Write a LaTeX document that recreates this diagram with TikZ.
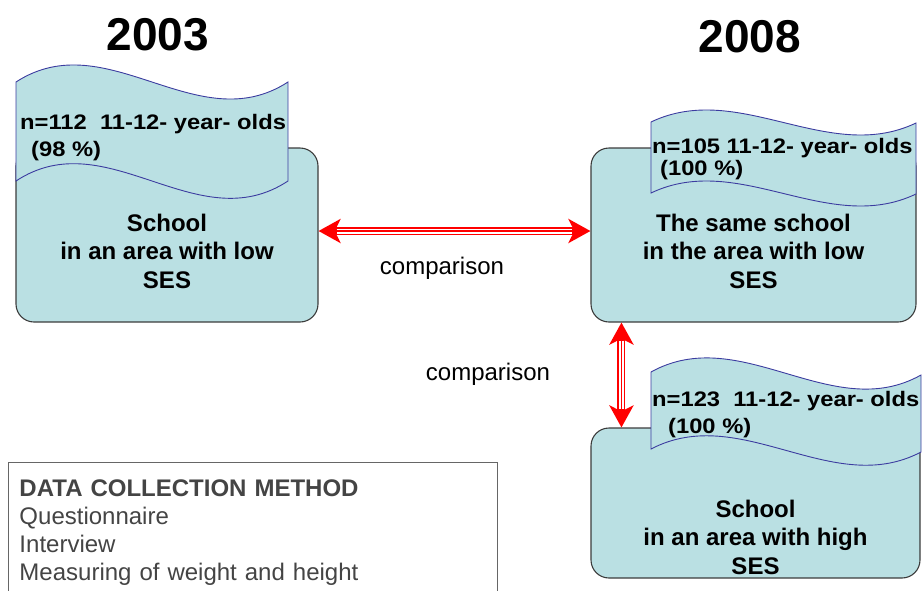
\documentclass[tikz,border=0pt]{standalone}
\usepackage{fontspec}
\setmainfont{Liberation Sans}
\newfontfamily\wavefont[FakeStretch=1.13]{Liberation Sans}
\usetikzlibrary{arrows.meta, positioning}
\usepackage{xcolor}
\definecolor{boxfill}{RGB}{186,224,227}
\definecolor{waveline}{RGB}{60,60,160}
\definecolor{boxline}{RGB}{60,60,60}
\definecolor{legendtext}{RGB}{68,68,68}

\begin{document}
\begin{tikzpicture}[x=1pt, y=-1pt, >={Stealth[length=22pt, width=24pt, inset=6pt]}]
				\tikzstyle{school} = [draw=boxline, fill=boxfill, line width=1.1pt, rounded corners=18pt, inner sep=0pt]
				\tikzstyle{wave} = [draw=waveline, fill=boxfill, line width=0.9pt]
				\tikzstyle{schooltext} = [font=\bfseries\fontsize{24}{28.5}\selectfont, align=center, inner sep=0pt]
				\tikzstyle{wavetext} = [font=\wavefont\bfseries\fontsize{21}{27}\selectfont, align=left, inner sep=0pt, anchor=base west]
				\tikzstyle{year} = [font=\bfseries\fontsize{46}{46}\selectfont, inner sep=0pt, anchor=base]
				\tikzstyle{cmplabel} = [font=\fontsize{24}{28}\selectfont, inner sep=0pt, anchor=base]
				\tikzstyle{compare} = [draw=red, line width=8pt, <->,
					postaction={draw=white, line width=5pt, -, shorten <=18pt, shorten >=18pt},
					postaction={draw=red, line width=1.6pt, -, shorten <=18pt, shorten >=18pt}]
				\tikzstyle{legend} = [draw=black!60, line width=1pt, anchor=north west, align=left, text width=467pt,
					inner xsep=11pt, inner ysep=17pt, text=legendtext, font=\fontsize{24}{28}\selectfont]
				
				\useasboundingbox (0,0) rectangle (922,590);
				
				\node[year]							at (158, 50)	(y03)		{2003};
				\node[year]							at (750, 52)	(y08)		{2008};
				
				\node[school, minimum width=302pt, minimum height=174pt]	at (167, 235)	(low03)		{};
				\node[school, minimum width=325pt, minimum height=174pt]	at (753.5, 235)	(low08)		{};
				\node[school, minimum width=329pt, minimum height=150pt]	at (755.5, 503)	(high08)	{};
				
				% wavy sample labels
				\filldraw[wave] (16,82) .. controls (107,23) and (197,141) .. (288,82) -- (288,181)
					.. controls (197,241) and (107,121) .. (16,181) -- cycle;
				\filldraw[wave] (651,122) .. controls (739,80) and (828,165) .. (916,123) -- (916,194)
					.. controls (828,236) and (739,151) .. (651,193) -- cycle;
				\filldraw[wave] (651,372) .. controls (741,322) and (832,425) .. (921,375) -- (921,452)
					.. controls (832,499) and (741,402) .. (651,449) -- cycle;
				
				% base = last line
				\node[wavetext]						at (20, 156)	(n03)		{n=112\ \ 11-12- year- olds\\\hspace*{11pt}(98 \%)};
				\node[wavetext, font=\wavefont\bfseries\fontsize{21}{22}\selectfont]
													at (652, 175)	(n08low)	{n=105 11-12- year- olds\\\hspace*{8pt}(100 \%)};
				\node[wavetext]						at (652, 433)	(n08high)	{n=123\ \ 11-12- year- olds\\\hspace*{16pt}(100 \%)};
				
				\node[schooltext] at ([yshift=-16pt]low03.center)	(low03txt)	{School\\in an area with low\\SES};
				\node[schooltext] at ([yshift=-16pt]low08.center)	(low08txt)	{The same school\\in the area with low\\SES};
				\node[schooltext] at ([yshift=-34pt]high08.center)	(high08txt)	{School\\in an area with high\\SES};
				
				\draw[compare] ([yshift=4pt]low03.east) -- ([yshift=4pt]low08.west);
				\draw[compare] ([xshift=31pt]low08.south west) -- ([xshift=31pt]high08.north west);
				\node[cmplabel]						at (442, 274)	(cmp1)		{comparison};
				\node[cmplabel]						at (488, 380)	(cmp2)		{comparison};
				
				\node[legend]						at (8, 462)		(method)	{\textbf{DATA COLLECTION METHOD}\\Questionnaire\\Interview\\Measuring of weight and height};
			\end{tikzpicture}
\end{document}
